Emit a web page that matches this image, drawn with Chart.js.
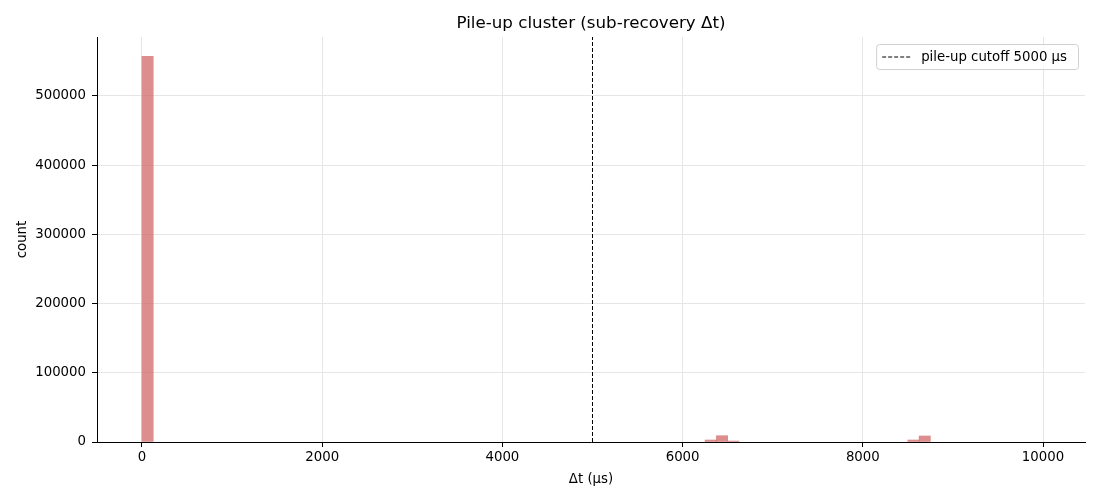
<!DOCTYPE html>
<html>
<head>
<meta charset="utf-8">
<script src="https://cdn.jsdelivr.net/npm/chart.js@4/dist/chart.umd.min.js"></script>
<style>
  html, body { margin: 0; padding: 0; background: #fff; }
  #wrap { width: 1100px; height: 500px; }
</style>
</head>
<body>
<div id="wrap"><canvas id="hist" width="1100" height="500"></canvas></div>
<script>
// histogram bins (left edge, µs) and counts
const binWidth = 125;
const binStarts = [0, 6250, 6375, 6500, 8500, 8625];
const binCounts = [557000, 2900, 9100, 1400, 2900, 8700];

const cutoff = 5000;
const cutoffLabel = "pile-up cutoff 5000 µs";
const xTicks = [0, 2000, 4000, 6000, 8000, 10000];
const yTicks = [0, 100000, 200000, 300000, 400000, 500000];
const yMax = 585000;

const titleText = "Pile-up cluster (sub-recovery Δt)";
const FONT = "'DejaVu Sans', sans-serif";

const barData = binStarts.map((s, i) => ({ x: s + binWidth / 2, y: binCounts[i] }));

// title + in-plot legend box, drawn like matplotlib does
const decor = {
  id: "decor",
  afterDraw(chart) {
    const ctx = chart.ctx;
    const area = chart.chartArea;
    ctx.save();
    ctx.fillStyle = "#000";
    ctx.font = "16.7px " + FONT;
    ctx.textAlign = "center";
    ctx.textBaseline = "middle";
    ctx.fillText(titleText, (area.left + area.right) / 2, 24);

    // legend
    ctx.font = "13.3px " + FONT;
    const tw = ctx.measureText(cutoffLabel).width;
    const bw = tw + 56, bh = 25;
    const bx = area.right - 7 - bw, by = area.top + 7;
    ctx.beginPath();
    ctx.roundRect(bx + 0.5, by + 0.5, bw, bh, 3);
    ctx.fillStyle = "rgba(255,255,255,0.8)";
    ctx.fill();
    ctx.strokeStyle = "#d0d0d0";
    ctx.lineWidth = 1;
    ctx.stroke();
    ctx.beginPath();
    ctx.setLineDash([4, 2]);
    ctx.strokeStyle = "#000";
    ctx.moveTo(bx + 6, by + bh / 2 + 0.5);
    ctx.lineTo(bx + 36, by + bh / 2 + 0.5);
    ctx.stroke();
    ctx.setLineDash([]);
    ctx.fillStyle = "#000";
    ctx.textAlign = "left";
    ctx.fillText(cutoffLabel, bx + 45, by + bh / 2 + 1);
    ctx.restore();
  }
};

new Chart(document.getElementById("hist"), {
  data: {
    datasets: [
      {
        type: "bar",
        label: "counts",
        data: barData,
        backgroundColor: "rgba(205,92,92,0.7)",
        borderWidth: 0,
        barPercentage: 1,
        categoryPercentage: 1,
        grouped: false,
        order: 2
      },
      {
        type: "line",
        label: cutoffLabel,
        data: [{ x: cutoff, y: 0 }, { x: cutoff, y: yMax }],
        borderColor: "#000",
        borderWidth: 1,
        borderDash: [4, 2],
        pointRadius: 0,
        fill: false,
        order: 1
      }
    ]
  },
  options: {
    responsive: false,
    animation: false,
    devicePixelRatio: 1,
    layout: { padding: { left: 0, right: 15, top: 37, bottom: 0 } },
    plugins: {
      legend: { display: false },
      title: { display: false },
      tooltip: { enabled: false }
    },
    scales: {
      x: {
        type: "linear",
        min: -499,
        max: 10466,
        offset: false,
        afterBuildTicks: (scale) => { scale.ticks = xTicks.map(v => ({ value: v })); },
        afterFit: (scale) => { scale.height = 58; },
        ticks: {
          includeBounds: false,
          color: "#000",
          font: { family: FONT, size: 13.3 },
          padding: 3,
          maxRotation: 0,
          callback: (v) => String(v)
        },
        grid: { offset: false, color: "#e6e6e6", tickColor: "#000", tickLength: 5 },
        border: { color: "#000", width: 1 },
        title: {
          display: true,
          text: "Δt (µs)",
          color: "#000",
          font: { family: FONT, size: 13.3 },
          padding: { top: 4, bottom: 12 }
        }
      },
      y: {
        type: "linear",
        min: 0,
        max: yMax,
        afterBuildTicks: (scale) => { scale.ticks = yTicks.map(v => ({ value: v })); },
        afterFit: (scale) => { scale.width = 97; },
        ticks: {
          includeBounds: false,
          color: "#000",
          font: { family: FONT, size: 13.3 },
          padding: 6,
          callback: (v) => String(v)
        },
        grid: { color: "#e6e6e6", tickColor: "#000", tickLength: 5 },
        border: { color: "#000", width: 1 },
        title: {
          display: true,
          text: "count",
          color: "#000",
          font: { family: FONT, size: 13.3 },
          padding: { top: 15, bottom: 4 }
        }
      }
    }
  },
  plugins: [decor]
});
</script>
</body>
</html>
